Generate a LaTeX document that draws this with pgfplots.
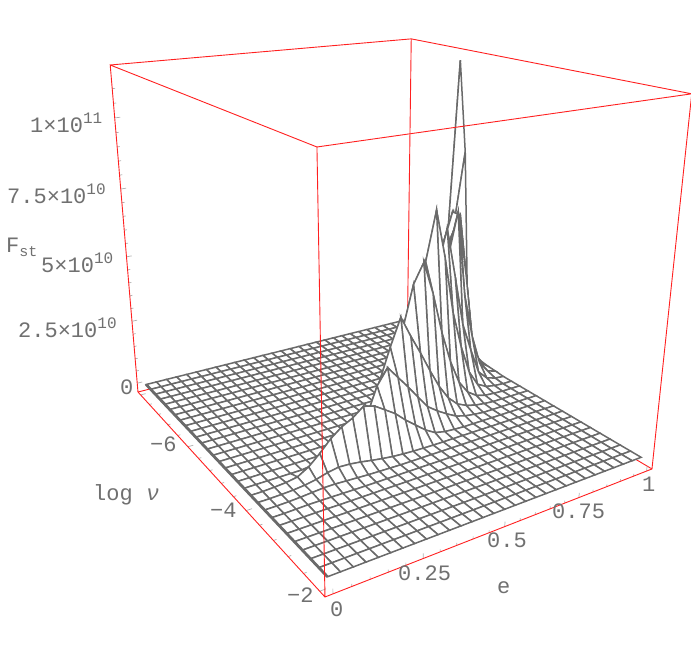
\documentclass[border=0pt]{standalone}
\usepackage{pgfplots}
\pgfplotsset{compat=1.18}
\usepackage{fontspec}
\setmainfont{Liberation Mono}
\definecolor{lab}{HTML}{707070}
\definecolor{meshc}{HTML}{6A6A6A}
\definecolor{boxr}{HTML}{FF2020}
\definecolor{tck}{HTML}{B0B0B0}
\pgfmathdeclarefunction{XP}{3}{\pgfmathparse{(325+471.1*#1-129.9*#2-55.9*#3)/(1+0.221*#1+0.414*#2-0.151*#3)}}
\pgfmathdeclarefunction{YP}{3}{\pgfmathparse{663-(597-24.4*#1-42.7*#2-472.2*#3)/(1+0.221*#1+0.414*#2-0.151*#3)}}
\pgfmathdeclarefunction{DP}{3}{\pgfmathparse{-(1+0.221*#1+0.414*#2-0.151*#3)}}
\pgfmathdeclarefunction{UU}{1}{\pgfmathparse{0.02+0.96*mod(#1,30)/29}}
\pgfmathdeclarefunction{WW}{1}{\pgfmathparse{0.02+0.96*floor((#1+0.5)/30)/29}}
\pgfmathdeclarefunction{HH}{1}{\pgfmathparse{0.03+0.08225*#1}}
\def\SX{XP(\thisrow{u},\thisrow{w},\thisrow{h})}
\def\SY{YP(\thisrow{u},\thisrow{w},\thisrow{h})}
\newcommand\lb[3]{\node[anchor=base west,inner sep=0pt,text=lab,font=\fontsize{22}{22}\selectfont] at (axis cs:#1,663-#2,-1.5) {#3};}
\newcommand\ex[1]{\raisebox{9pt}{\fontsize{16}{16}\selectfont #1}}
\begin{document}
\begin{tikzpicture}
\path[use as bounding box] (0,0) rectangle (691pt,663pt);
\begin{axis}[at={(0,0)},anchor=south west,scale only axis,width=691pt,height=663pt,
  view={0}{90},hide axis,clip=false,xmin=0,xmax=691,ymin=0,ymax=663,zmin=-2,zmax=-1]
% back box edges (hidden by the surface)
\addplot3[boxr,line width=0.9pt,empty line=jump] table[x expr=\SX,y expr=\SY,z expr=-1.5]{
u w h
0 1 0
1 1 0
1 0 0

1 1 0
1 1 1
};
% surface
\addplot3[surf,shader=faceted,faceted color=meshc,line width=1.5pt,mesh/rows=30,mesh/cols=30,mesh/ordering=x varies,
  z buffer=reverse xy seq,colormap={w}{color=(white) color=(white)}]
 table[row sep=\\,
   x expr={XP(UU(\coordindex),WW(\coordindex),HH(\thisrow{F}))},
   y expr={YP(UU(\coordindex),WW(\coordindex),HH(\thisrow{F}))},
   z expr={DP(UU(\coordindex),WW(\coordindex),HH(\thisrow{F}))}]{
F\\
0\\0\\0\\0\\0\\0\\0\\0\\0\\0\\0\\0\\0\\0\\0\\0\\0\\0\\0\\0\\0\\0\\0\\0\\0\\0\\0\\0\\0\\0\\
0\\0\\0\\0\\0\\0\\0\\0\\0\\0\\0\\0\\0\\0\\0\\0\\0\\0\\0\\0\\0\\0\\0\\0\\0\\0\\0\\0\\0\\0\\
0\\0\\0\\0\\0\\0\\0\\0\\0\\0\\0\\0\\0\\0\\0\\0\\0\\0\\0\\0\\0\\0\\0\\0\\0\\0\\0\\0\\0\\0\\
0\\0\\0\\0\\0\\0\\0\\0\\0\\0\\0\\0\\0\\0\\0\\0\\0\\0\\0\\0\\0\\0\\0\\0\\0\\0\\0\\0\\0\\0\\
0\\0\\0\\0\\0\\0\\0\\0\\0\\0\\0\\0\\0\\0\\0\\0\\0\\0\\0\\0\\0\\0\\0\\0\\0\\0\\0\\0\\0\\0\\
0\\0\\0\\0\\0\\0\\0\\0\\0\\0\\0\\0\\0\\0\\0\\0\\0\\0\\0\\0\\0\\0\\0\\0\\0\\0\\0\\0\\0\\0\\
0\\0\\0\\0.005\\0.005\\0\\0\\0\\0\\0\\0\\0\\0\\0\\0\\0\\0\\0\\0\\0\\0\\0\\0\\0\\0\\0\\0\\0\\0\\0\\
0\\0\\0.01\\0.02\\0.02\\0.015\\0.01\\0.005\\0\\0\\0\\0\\0\\0\\0\\0\\0\\0\\0\\0\\0\\0\\0\\0\\0\\0\\0\\0\\0\\0\\
0\\0\\0.01\\0.03\\0.06\\0.09\\0.09\\0.07\\0.05\\0.03\\0.02\\0.01\\0\\0\\0\\0\\0\\0\\0\\0\\0\\0\\0\\0\\0\\0\\0\\0\\0\\0\\
0\\0\\0.01\\0.03\\0.07\\0.14\\0.25\\0.32\\0.3\\0.25\\0.18\\0.12\\0.07\\0.04\\0.02\\0.01\\0\\0\\0\\0\\0\\0\\0\\0\\0\\0\\0\\0\\0\\0\\
0\\0\\0.02\\0.05\\0.12\\0.35\\0.7\\1.1\\1.4\\1.6\\1.9\\1.8\\1.55\\1.3\\0.95\\0.65\\0.35\\0.13\\0.05\\0.02\\0\\0\\0\\0\\0\\0\\0\\0\\0\\0\\
0\\0\\0\\0\\0\\0\\0.02\\0.04\\0.1\\0.25\\0.55\\1.2\\2.2\\2.75\\2.3\\1.85\\1.37\\0.9\\0.63\\0.4\\0.2\\0.09\\0.04\\0\\0\\0\\0\\0\\0\\0\\
0\\0\\0\\0\\0\\0\\0\\0\\0.03\\0.08\\0.2\\0.45\\1\\2.1\\3.2\\4.17\\3.4\\2.7\\1.95\\1.25\\0.7\\0.35\\0.18\\0.08\\0.03\\0\\0\\0\\0\\0\\
0\\0\\0\\0\\0\\0\\0\\0\\0\\0\\0.03\\0.08\\0.2\\0.45\\1\\2\\3.5\\5\\5.7\\4.5\\3\\1.8\\0.9\\0.4\\0.15\\0.05\\0.02\\0\\0\\0\\
0\\0\\0\\0\\0\\0\\0\\0\\0\\0\\0\\0\\0.03\\0.08\\0.2\\0.45\\1\\2\\3.5\\5.5\\7.25\\5.5\\3.4\\2\\0.9\\0.3\\0.1\\0.03\\0\\0\\
0\\0\\0\\0\\0\\0\\0\\0\\0\\0\\0\\0\\0\\0\\0.03\\0.08\\0.2\\0.45\\1\\1.9\\3.2\\4.8\\6.35\\4.5\\2.6\\1.5\\0.5\\0.15\\0.04\\0\\
0\\0\\0\\0\\0\\0\\0\\0\\0\\0\\0\\0\\0\\0\\0\\0\\0.03\\0.08\\0.2\\0.5\\1.1\\2\\3.4\\5\\6.7\\3.5\\1.8\\0.6\\0.15\\0.03\\
0\\0\\0\\0\\0\\0\\0\\0\\0\\0\\0\\0\\0\\0\\0\\0\\0\\0.03\\0.1\\0.25\\0.6\\1.2\\2.2\\3.8\\5.2\\6.3\\4\\1.2\\0.3\\0.05\\
0\\0\\0\\0\\0\\0\\0\\0\\0\\0\\0\\0\\0\\0\\0\\0\\0\\0\\0.04\\0.12\\0.3\\0.7\\1.4\\2.6\\4\\5.4\\6.2\\3.5\\0.6\\0.1\\
0\\0\\0\\0\\0\\0\\0\\0\\0\\0\\0\\0\\0\\0\\0\\0\\0\\0\\0\\0.05\\0.15\\0.4\\0.9\\1.8\\3.3\\5\\6.2\\4.5\\1\\0.15\\
0\\0\\0\\0\\0\\0\\0\\0\\0\\0\\0\\0\\0\\0\\0\\0\\0\\0\\0\\0\\0.03\\0.1\\0.3\\0.8\\1.7\\3.5\\5\\6\\4.5\\1.9\\
0\\0\\0\\0\\0\\0\\0\\0\\0\\0\\0\\0\\0\\0\\0\\0\\0\\0\\0\\0\\0\\0\\0.03\\0.1\\0.3\\0.9\\2.2\\4\\5.5\\8.1\\
0\\0\\0\\0\\0\\0\\0\\0\\0\\0\\0\\0\\0\\0\\0\\0\\0\\0\\0\\0\\0\\0\\0\\0\\0.05\\0.15\\0.5\\1.5\\4\\11.43\\
0\\0\\0\\0\\0\\0\\0\\0\\0\\0\\0\\0\\0\\0\\0\\0\\0\\0\\0\\0\\0\\0\\0\\0\\0\\0\\0.02\\0.05\\0.3\\1\\
0\\0\\0\\0\\0\\0\\0\\0\\0\\0\\0\\0\\0\\0\\0\\0\\0\\0\\0\\0\\0\\0\\0\\0\\0\\0\\0\\0\\0\\0\\
0\\0\\0\\0\\0\\0\\0\\0\\0\\0\\0\\0\\0\\0\\0\\0\\0\\0\\0\\0\\0\\0\\0\\0\\0\\0\\0\\0\\0\\0\\
0\\0\\0\\0\\0\\0\\0\\0\\0\\0\\0\\0\\0\\0\\0\\0\\0\\0\\0\\0\\0\\0\\0\\0\\0\\0\\0\\0\\0\\0\\
0\\0\\0\\0\\0\\0\\0\\0\\0\\0\\0\\0\\0\\0\\0\\0\\0\\0\\0\\0\\0\\0\\0\\0\\0\\0\\0\\0\\0\\0\\
0\\0\\0\\0\\0\\0\\0\\0\\0\\0\\0\\0\\0\\0\\0\\0\\0\\0\\0\\0\\0\\0\\0\\0\\0\\0\\0\\0\\0\\0\\
0\\0\\0\\0\\0\\0\\0\\0\\0\\0\\0\\0\\0\\0\\0\\0\\0\\0\\0\\0\\0\\0\\0\\0\\0\\0\\0\\0\\0\\0\\
};
% thick edge at e=0
\addplot3[meshc,line width=2.8pt] table[x expr=\SX,y expr=\SY,z expr=-1.5]{
u w h
0.02 0.02 0.03
0.02 0.98 0.03
};
% ticks
\addplot3[tck,line width=0.7pt,empty line=jump] table[x expr=\SX,y expr=\SY,z expr=-1.5]{
u w h
0.02 0 0
0.02 0 0.014

0.068 0 0
0.068 0 0.007

0.116 0 0
0.116 0 0.007

0.164 0 0
0.164 0 0.007

0.212 0 0
0.212 0 0.007

0.26 0 0
0.26 0 0.014

0.308 0 0
0.308 0 0.007

0.356 0 0
0.356 0 0.007

0.404 0 0
0.404 0 0.007

0.452 0 0
0.452 0 0.007

0.5 0 0
0.5 0 0.014

0.548 0 0
0.548 0 0.007

0.596 0 0
0.596 0 0.007

0.644 0 0
0.644 0 0.007

0.692 0 0
0.692 0 0.007

0.74 0 0
0.74 0 0.014

0.788 0 0
0.788 0 0.007

0.836 0 0
0.836 0 0.007

0.884 0 0
0.884 0 0.007

0.932 0 0
0.932 0 0.007

0.98 0 0
0.98 0 0.014

0 0.02 0
0.016 0.02 0

0 0.084 0
0.008 0.084 0

0 0.148 0
0.008 0.148 0

0 0.212 0
0.008 0.212 0

0 0.276 0
0.008 0.276 0

0 0.34 0
0.016 0.34 0

0 0.404 0
0.008 0.404 0

0 0.468 0
0.008 0.468 0

0 0.532 0
0.008 0.532 0

0 0.596 0
0.008 0.596 0

0 0.66 0
0.016 0.66 0

0 0.724 0
0.008 0.724 0

0 0.788 0
0.008 0.788 0

0 0.852 0
0.008 0.852 0

0 0.916 0
0.008 0.916 0

0 0.98 0
0.016 0.98 0

0 1 0.03
0.016 1 0.03

0 1 0.071
0.008 1 0.071

0 1 0.112
0.008 1 0.112

0 1 0.153
0.008 1 0.153

0 1 0.194
0.008 1 0.194

0 1 0.236
0.016 1 0.236

0 1 0.277
0.008 1 0.277

0 1 0.318
0.008 1 0.318

0 1 0.359
0.008 1 0.359

0 1 0.4
0.008 1 0.4

0 1 0.441
0.016 1 0.441

0 1 0.482
0.008 1 0.482

0 1 0.523
0.008 1 0.523

0 1 0.565
0.008 1 0.565

0 1 0.606
0.008 1 0.606

0 1 0.647
0.016 1 0.647

0 1 0.688
0.008 1 0.688

0 1 0.729
0.008 1 0.729

0 1 0.77
0.008 1 0.77

0 1 0.811
0.008 1 0.811

0 1 0.853
0.016 1 0.853

0 1 0.894
0.008 1 0.894

0 1 0.935
0.008 1 0.935
};
% front and top box edges
\addplot3[boxr,line width=0.9pt,empty line=jump] table[x expr=\SX,y expr=\SY,z expr=-1.5]{
u w h
0 1 0
0 0 0
1 0 0
1 0 1
0 0 1
0 0 0

0 1 0
0 1 1
0 0 1

0 1 1
1 1 1
1 0 1
};
% labels
\lb{30}{133}{1×10\ex{11}}
\lb{7}{204}{7.5×10\ex{10}}
\lb{41}{273}{5×10\ex{10}}
\lb{18}{338}{2.5×10\ex{10}}
\lb{120}{395}{0}
\lb{6}{253}{F\raisebox{-4pt}{\fontsize{15}{15}\selectfont st}}
\lb{150}{452}{−6}
\lb{210}{518}{−4}
\lb{287}{603}{−2}
\lb{93}{501}{log \textit{ν}}
\lb{330}{617}{0}
\lb{398}{581}{0.25}
\lb{487}{548}{0.5}
\lb{552}{519}{0.75}
\lb{642}{492}{1}
\lb{497}{594}{e}
\end{axis}
\end{tikzpicture}
\end{document}
